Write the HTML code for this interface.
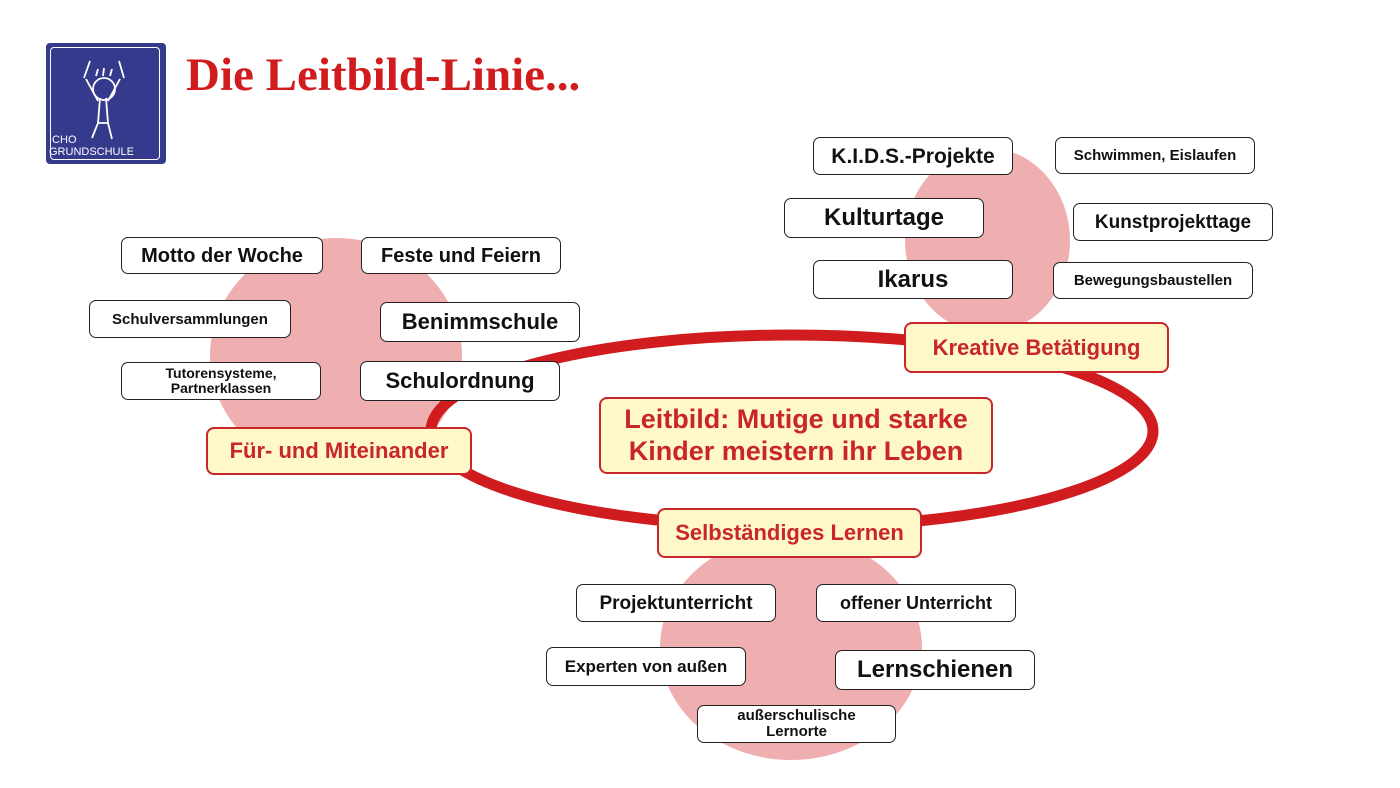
<!DOCTYPE html>
<html><head><meta charset="utf-8"><style>
body{margin:0;width:1400px;height:788px;background:#fff;position:relative;overflow:hidden;font-family:"Liberation Sans",sans-serif}
.b{position:absolute;box-sizing:border-box;border:1.5px solid #222;border-radius:7px;background:#fff;display:flex;align-items:center;justify-content:center;text-align:center;font-weight:bold;color:#111;line-height:1}
.y{position:absolute;box-sizing:border-box;border:2px solid #c8262a;border-radius:8px;background:#fff8c8;display:flex;align-items:center;justify-content:center;text-align:center;font-weight:bold;color:#c8262a;line-height:1.15}
.c{position:absolute;border-radius:50%;background:#efafb0}
</style></head><body>
<div class="c" style="left:210px;top:238px;width:252px;height:235px"></div>
<div class="c" style="left:905px;top:148px;width:165px;height:185px"></div>
<div class="c" style="left:660px;top:535px;width:262px;height:225px"></div>
<svg style="position:absolute;left:0;top:0" width="1400" height="788"><ellipse cx="792" cy="431" rx="361" ry="96" fill="none" stroke="#d01c1f" stroke-width="11"/></svg>
<div style="position:absolute;left:46px;top:43px;width:120px;height:121px;background:#353a8c;border-radius:4px"></div>
<div style="position:absolute;left:50px;top:47px;width:110px;height:113px;border:1.5px solid #fff;border-radius:4px;box-sizing:border-box"></div>
<svg style="position:absolute;left:46px;top:43px" width="120" height="121" fill="none" stroke="#fff" stroke-width="1.8">
<circle cx="58" cy="46" r="11"/><path d="M38 35 L44 18 M78 35 L73 18 M50 33 L52 26 M57 33 L58 25 M64 33 L66 26 M54 55 L52 80 L62 80 L60 55 M52 80 L46 95 M62 80 L66 96 M52 58 L40 36 M62 58 L74 36"/></svg>
<div style="position:absolute;left:49px;top:134px;color:#fff;font:11px 'Liberation Sans',sans-serif;line-height:12px">ICHO<br>GRUNDSCHULE</div>
<div style="position:absolute;left:186px;top:48px;color:#d01c1f;font:bold 47px 'Liberation Serif',serif">Die Leitbild-Linie...</div>

<div class="b" style="left:121px;top:237px;width:202px;height:37px;font-size:20px">Motto der Woche</div>
<div class="b" style="left:361px;top:237px;width:200px;height:37px;font-size:20px">Feste und Feiern</div>
<div class="b" style="left:89px;top:300px;width:202px;height:38px;font-size:15px">Schulversammlungen</div>
<div class="b" style="left:380px;top:302px;width:200px;height:40px;font-size:22px">Benimmschule</div>
<div class="b" style="left:121px;top:362px;width:200px;height:38px;font-size:14px;line-height:1.05">Tutorensysteme,<br>Partnerklassen</div>
<div class="b" style="left:360px;top:361px;width:200px;height:40px;font-size:22px">Schulordnung</div>
<div class="y" style="left:206px;top:427px;width:266px;height:48px;font-size:22px">Für- und Miteinander</div>

<div class="b" style="left:813px;top:137px;width:200px;height:38px;font-size:21px">K.I.D.S.-Projekte</div>
<div class="b" style="left:1055px;top:137px;width:200px;height:37px;font-size:15px">Schwimmen, Eislaufen</div>
<div class="b" style="left:784px;top:198px;width:200px;height:40px;font-size:24px">Kulturtage</div>
<div class="b" style="left:1073px;top:203px;width:200px;height:38px;font-size:19px">Kunstprojekttage</div>
<div class="b" style="left:813px;top:260px;width:200px;height:39px;font-size:24px">Ikarus</div>
<div class="b" style="left:1053px;top:262px;width:200px;height:37px;font-size:15px">Bewegungsbaustellen</div>
<div class="y" style="left:904px;top:322px;width:265px;height:51px;font-size:22px">Kreative Betätigung</div>

<div class="y" style="left:599px;top:397px;width:394px;height:77px;font-size:27px">Leitbild: Mutige und starke<br>Kinder meistern ihr Leben</div>
<div class="y" style="left:657px;top:508px;width:265px;height:50px;font-size:22px">Selbständiges Lernen</div>

<div class="b" style="left:576px;top:584px;width:200px;height:38px;font-size:19px">Projektunterricht</div>
<div class="b" style="left:816px;top:584px;width:200px;height:38px;font-size:18px">offener Unterricht</div>
<div class="b" style="left:546px;top:647px;width:200px;height:39px;font-size:17px">Experten von außen</div>
<div class="b" style="left:835px;top:650px;width:200px;height:40px;font-size:24px">Lernschienen</div>
<div class="b" style="left:697px;top:705px;width:199px;height:38px;font-size:15px;line-height:1.1">außerschulische<br>Lernorte</div>
</body></html>
